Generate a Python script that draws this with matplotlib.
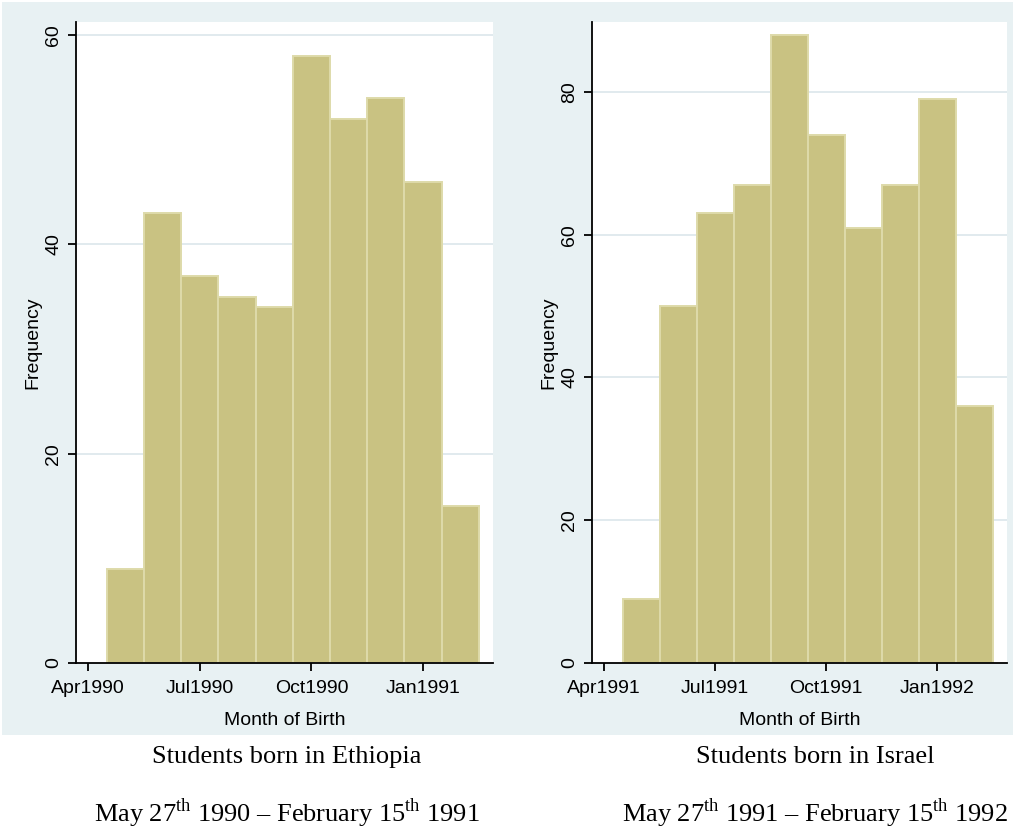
import matplotlib
matplotlib.use("Agg")
import matplotlib.pyplot as plt
import matplotlib.patches as mpatches
import pandas as pd

# monthly birth counts, one bar per calendar month
eth_months = ["1990-05", "1990-06", "1990-07", "1990-08", "1990-09",
              "1990-10", "1990-11", "1990-12", "1991-01", "1991-02"]
eth_counts = [9, 43, 37, 35, 34, 58, 52, 54, 46, 15]

isr_months = ["1991-05", "1991-06", "1991-07", "1991-08", "1991-09",
              "1991-10", "1991-11", "1991-12", "1992-01", "1992-02"]
isr_counts = [9, 50, 63, 67, 88, 74, 61, 67, 79, 36]

eth_ticks = ["1990-04", "1990-07", "1990-10", "1991-01"]
isr_ticks = ["1991-04", "1991-07", "1991-10", "1992-01"]

eth_yticks = [0, 20, 40, 60]
isr_yticks = [0, 20, 40, 60, 80]

titles = ["Students born in Ethiopia", "Students born in Israel"]
subtitles = [r"May 27$^{\rm th}$ 1990 – February 15$^{\rm th}$ 1991",
             r"May 27$^{\rm th}$ 1991 – February 15$^{\rm th}$ 1992"]

BAR = "#C9C282"
BAR_EDGE = "#DEDAAA"
REGION = "#E8F1F3"
GRID = "#DCE6EB"

plt.rcParams["font.family"] = ["Liberation Sans", "DejaVu Sans"]
plt.rcParams["mathtext.fontset"] = "custom"
plt.rcParams["mathtext.rm"] = "Liberation Serif"


def to_month(s):
    return pd.Period(s, freq="M").ordinal


def histogram(ax, months, counts, ticks, yticks, ytop):
    x = [to_month(m) for m in months]
    ax.bar(x, counts, width=1.0, color=BAR, edgecolor=BAR_EDGE,
           linewidth=1.4, zorder=2)
    t = [to_month(m) for m in ticks]
    ax.set_xticks(t)
    ax.set_xticklabels([pd.Period(m, freq="M").strftime("%b%Y") for m in ticks])
    ax.set_xlim(t[0] - 0.33, t[0] + 10.88)
    ax.set_ylim(0, ytop)
    ax.set_yticks(yticks)
    ax.set_yticklabels([str(v) for v in yticks], rotation=90, va="center")
    for v in yticks[1:]:
        ax.axhline(v, color=GRID, lw=1.2, zorder=1)
    ax.spines["top"].set_visible(False)
    ax.spines["right"].set_visible(False)
    ax.spines["left"].set_linewidth(1.3)
    ax.spines["bottom"].set_linewidth(1.3)
    ax.tick_params(axis="both", direction="out", length=6, width=1.3,
                   labelsize=14, colors="black")
    ax.tick_params(axis="x", pad=6)
    ax.tick_params(axis="y", pad=4)
    ax.set_xlabel("Month of Birth", fontsize=14, labelpad=11)
    ax.set_ylabel("Frequency", fontsize=14, labelpad=3)


fig = plt.figure(figsize=(10.16, 8.31), dpi=100)
fig.patch.set_facecolor("white")
fig.patches.append(mpatches.Rectangle((2 / 1016, (831 - 735) / 831),
                                      1011 / 1016, 733 / 831,
                                      transform=fig.transFigure,
                                      facecolor=REGION, edgecolor="none",
                                      zorder=-10))

ax1 = fig.add_axes([76 / 1016, 168 / 831, 417 / 1016, 641 / 831])
ax2 = fig.add_axes([592 / 1016, 168 / 831, 415 / 1016, 641 / 831])

histogram(ax1, eth_months, eth_counts, eth_ticks, eth_yticks, 61.24)
histogram(ax2, isr_months, isr_counts, isr_ticks, isr_yticks, 89.8)

for cx, title, sub in zip([287, 815], titles, subtitles):
    fig.text(cx / 1016, 1 - 757 / 831, title, ha="center", va="center",
             fontsize=19, family="Liberation Serif")
    fig.text(cx / 1016, 1 - 813 / 831, sub, ha="center", va="center",
             fontsize=19, family="Liberation Serif")

fig.savefig("out.png", dpi=100)
